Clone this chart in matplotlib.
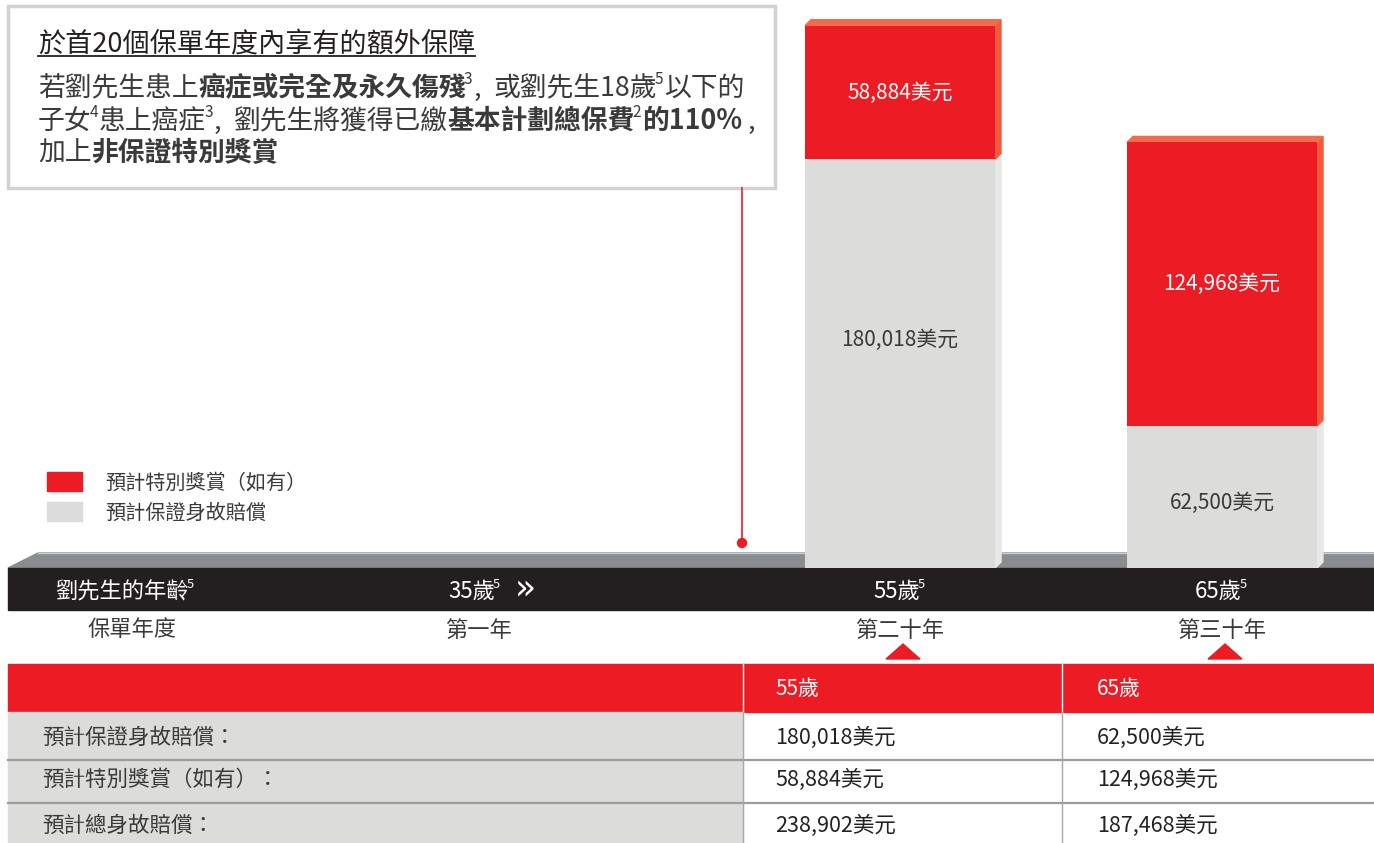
import matplotlib
matplotlib.use('Agg')
import matplotlib.pyplot as plt
from matplotlib.patches import Rectangle, Polygon, Circle

plt.rcParams['font.family'] = ['Noto Sans CJK TC', 'DejaVu Sans']

# ---------------- data ----------------
age_labels = ['55歲', '65歲']
policy_years = ['第二十年', '第三十年']
guaranteed = [180018, 62500]
bonus = [58884, 124968]
total = [238902, 187468]
legend_labels = ['預計特別獎賞（如有）', '預計保證身故賠償']
row_labels = ['預計保證身故賠償：', '預計特別獎賞（如有）：', '預計總身故賠償：']
title_text = '於首20個保單年度內享有的額外保障'
age_axis_title = '劉先生的年齡'
year_axis_title = '保單年度'
start_age = '35歲'
first_year = '第一年'

# ---------------- style ----------------
RED = '#ED1C24'
RED_SIDE = '#F15A3C'
RED_TOP = '#F36B4C'
GRAY = '#DCDCDA'
GRAY_SIDE = '#E8E8E6'
FLOOR = '#8A8D8F'
BLACK = '#231F20'
TXT = '#3A3A3A'

W, H = 1374, 843
fig = plt.figure(figsize=(W / 100, H / 100), dpi=100)
ax = fig.add_axes([0, 0, 1, 1], zorder=1)
ax.set_xlim(0, W)
ax.set_ylim(H, 0)
ax.axis('off')
renderer = fig.canvas.get_renderer()


def usd(v):
    return f'{v:,}美元'


def place_runs(x, y, parts, size, color=TXT, align='left', va='baseline'):
    """parts: list of (text, bold, superscript)"""
    objs = []
    for s, bold, sup in parts:
        fs = size * 0.58 if sup else size
        t = ax.text(0, y - (size * 0.6 if sup else 0), s, fontsize=fs,
                    fontweight='bold' if bold else 'normal', color=color,
                    ha='left', va=va)
        objs.append((t, sup))
    widths = [t.get_window_extent(renderer).width for t, _ in objs]
    tot = sum(widths)
    cx = x - tot / 2 if align == 'center' else x
    for (t, sup), w in zip(objs, widths):
        if sup:
            cx -= 2
        t.set_x(cx)
        cx += w + (1 if sup else 0)
    return cx


# ---------------- text box ----------------
ax.add_patch(Rectangle((8, 6), 767, 182, facecolor='white', edgecolor='#D2D2D2', lw=2.5, zorder=2))
x_end = place_runs(38, 51, [(title_text, False, False)], 19.5, color=BLACK)
ax.plot([38, x_end], [56, 56], color=BLACK, lw=1.3, zorder=3)
BODY = 19.3
place_runs(38, 96, [('若劉先生患上', False, False), ('癌症或完全及永久傷殘', True, False),
                    ('3', False, True), (',  ', False, False), ('或劉先生18歲', False, False), ('5', False, True),
                    ('以下的', False, False)], BODY)
place_runs(38, 129, [('子女', False, False), ('4', False, True), ('患上癌症', False, False),
                     ('3', False, True), (',  ', False, False), ('劉先生將獲得已繳', False, False),
                     ('基本計劃總保費', True, False), ('2', False, True), ('的110%', True, False),
                     (' ,', False, False)], BODY)
place_runs(38, 161, [('加上', False, False), ('非保證特別獎賞', True, False)], BODY)

# pin line
ax.plot([742, 742], [188, 543], color=RED, lw=1.2, zorder=2)
ax.add_patch(Circle((742, 543), 4.5, color=RED, zorder=3))

# ---------------- legend ----------------
ax.add_patch(Rectangle((47, 472), 35, 19, color=RED))
ax.add_patch(Rectangle((47, 502), 35, 19, color=GRAY))
ax.text(105, 483, legend_labels[0], fontsize=14.5, color=TXT, va='center')
ax.text(105, 513, legend_labels[1], fontsize=14.5, color=TXT, va='center')

# ---------------- floor / axis band ----------------
BASE = 568
ax.add_patch(Polygon([(8, BASE), (38, 553), (W, 553), (W, BASE)], closed=True, color=FLOOR, zorder=1))
ax.plot([38, W], [553, 553], color='#C9CBCC', lw=1, zorder=1)
ax.add_patch(Rectangle((8, BASE), W - 8, 42, color=BLACK, zorder=1))

# ---------------- bars ----------------
PX_PER_UNIT = 0.00227
bax = fig.add_axes([0, (H - BASE) / H, 1, BASE / H], zorder=2)
bax.set_xlim(0, W)
bax.set_ylim(0, BASE / PX_PER_UNIT)
bax.patch.set_alpha(0)
bax.axis('off')

xs = [900, 1222]
bw = 190
bax.bar(xs, guaranteed, width=bw, color=GRAY, zorder=2)
bax.bar(xs, bonus, bottom=guaranteed, width=bw, color=RED, zorder=2)

d = 6
dy = d / PX_PER_UNIT
gray_label_shift_px = [24, -6]   # label placement tweak (pixels upward)
for x, g, b, sh in zip(xs, guaranteed, bonus, gray_label_shift_px):
    x0, x1 = x - bw / 2, x + bw / 2
    top = g + b
    bax.add_patch(Polygon([(x1, 0), (x1 + d, dy), (x1 + d, g + dy), (x1, g)], closed=True,
                          color=GRAY_SIDE, zorder=1))
    bax.add_patch(Polygon([(x1, g), (x1 + d, g + dy), (x1 + d, top + dy), (x1, top)], closed=True,
                          color=RED_SIDE, zorder=1))
    bax.add_patch(Polygon([(x0, top), (x0 + d, top + dy), (x1 + d, top + dy), (x1, top)], closed=True,
                          color=RED_TOP, zorder=1))
    bax.text(x, g / 2 + sh / PX_PER_UNIT, usd(g), fontsize=15, color=TXT, ha='center', va='center', zorder=3)
    bax.text(x, g + b / 2, usd(b), fontsize=15, color='white', ha='center', va='center', zorder=3)

# ---------------- axis labels ----------------
place_runs(55, 598, [(age_axis_title, False, False), ('5', False, True)], 16, color='white')
end = place_runs(448, 598, [(start_age, False, False), ('5', False, True)], 16, color='white')
ax.text(end + 14, 589, '»', fontsize=25, color='white', va='center', family='DejaVu Sans')
for x, a in zip(xs, age_labels):
    place_runs(x, 598, [(a, False, False), ('5', False, True)], 16, color='white', align='center')

ax.text(132, 630, year_axis_title, fontsize=16, color=TXT, ha='center', va='center')
ax.text(478, 630, first_year, fontsize=16, color=TXT, ha='center', va='center')
for x, py in zip(xs, policy_years):
    ax.text(x, 630, py, fontsize=16, color=TXT, ha='center', va='center')
    ax.add_patch(Polygon([(x - 14, 659), (x + 3, 644), (x + 20, 659)], closed=True, color=RED))

# ---------------- table ----------------
cols = [8, 743, 1062, W]
ax.add_patch(Rectangle((8, 664), W - 8, 48, color=RED))
for c in cols[1:3]:
    ax.plot([c, c], [664, 712], color='white', lw=1)
ax.text(775, 689, age_labels[0], fontsize=15, color='white', va='center')
ax.text(1097, 689, age_labels[1], fontsize=15, color='white', va='center')

row_edges = [712, 760, 803, H + 5]
row_centers = [738, 780, 826]
ax.add_patch(Rectangle((8, 712), cols[1] - 8, H - 712 + 5, color=GRAY))
for yy in row_edges[1:3]:
    ax.plot([8, W], [yy, yy], color='#9C9C9C', lw=1.6)
for c in cols[1:3]:
    ax.plot([c, c], [712, H], color='#A8A8A8', lw=1)

col1 = guaranteed, bonus, total
for i, (lab, yc) in enumerate(zip(row_labels, row_centers)):
    ax.text(42, yc, lab, fontsize=15.5, color=TXT, va='center')
    ax.text(775, yc, usd(col1[i][0]), fontsize=15.5, color='#222222', va='center')
    ax.text(1097, yc, usd(col1[i][1]), fontsize=15.5, color='#222222', va='center')

fig.savefig('out.png', dpi=100)
